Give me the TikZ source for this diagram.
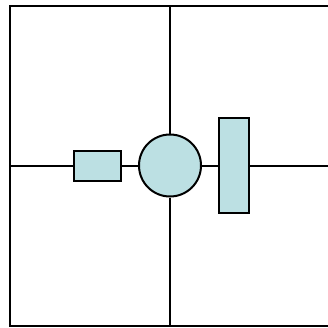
\documentclass[tikz,border=0pt]{standalone}
\usepackage{tikz}
\usetikzlibrary{calc}

\definecolor{partfill}{RGB}{188,224,227}

\begin{document}
\begin{tikzpicture}[x=1pt,y=-1pt,line width=2pt,
  part/.style={draw=black, fill=partfill, inner sep=0pt}]
  \useasboundingbox (0,0) rectangle (328,327);
  \draw (10,6) rectangle (330,325.5);

  \coordinate (west) at (10,165.5);
  \coordinate (east) at (330,165.5);
  \coordinate (north) at (170,6);
  \coordinate (south) at (170,325.5);

  \node[part, circle, minimum size=62pt] (hub) at (170,165.5) {};
  \node[part, rectangle, minimum width=47pt, minimum height=30pt] (lbox) at (97.8,165.5) {};
  \node[part, rectangle, minimum width=30.6pt, minimum height=94.4pt] (rbox) at (234,165.5) {};

  \draw (west) -- (lbox.west);
  \draw (lbox.east) -- (hub.west);
  \draw (hub.east) -- (rbox.west);
  \draw (rbox.east) -- (east);
  \draw (north) -- (hub.north);
  \draw (hub.south) -- (south);
\end{tikzpicture}
\end{document}
